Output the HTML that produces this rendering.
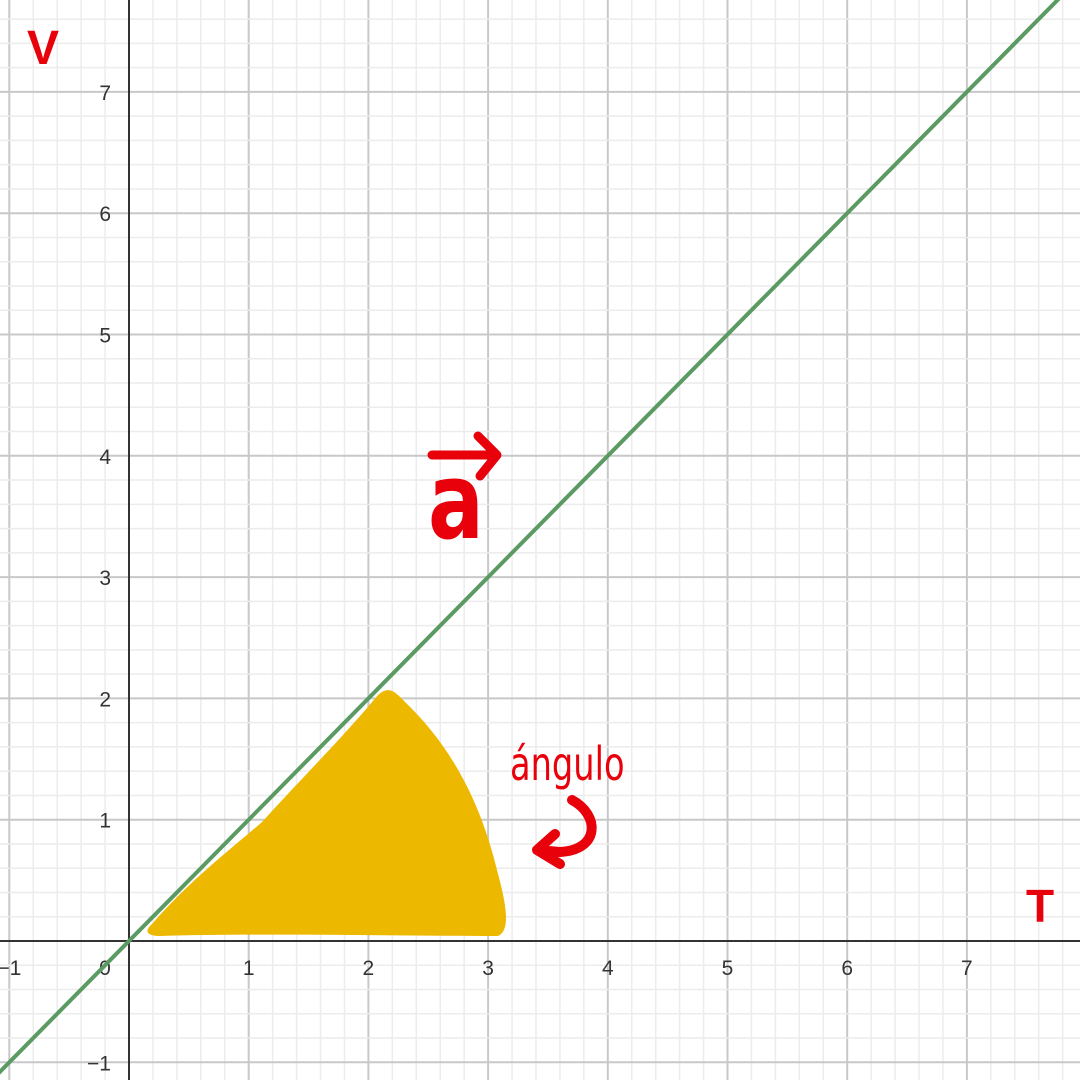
<!DOCTYPE html>
<html><head><meta charset="utf-8">
<style>
html,body{margin:0;padding:0;background:#fff;}
svg{display:block;}
</style></head>
<body>
<svg id="chart" width="1080" height="1080" viewBox="0 0 1080 1080" xmlns="http://www.w3.org/2000/svg" font-family="Liberation Sans, sans-serif">
<g id="grid"></g>
<g id="axes"></g>
<g id="labels"></g>
<path fill="#edb800" d="M152,924 C190,880 230,850 262,822 C300,780 345,735 378,695 C388,686 394,690 405,702 C450,745 480,800 497,870 C505,900 512,930 498,936 C400,936 260,933 160,936 C145,936 145,930 152,924 Z"/>
<g id="series"></g>
<text x="27" y="64" font-size="48" font-weight="bold" fill="#e8000b" font-family="Liberation Sans, sans-serif">V</text>
<text x="1026" y="922" font-size="46" font-weight="bold" fill="#e8000b">T</text>
<g>
<text x="428" y="538" font-size="92" fill="#e8000b" font-family="DejaVu Sans Condensed, DejaVu Sans, sans-serif" font-weight="bold" transform="translate(428 538) scale(1 1.15) translate(-428 -538)">a</text>
<path d="M432,455 L496,455 M478,436 L497,455 L480,476" stroke="#e8000b" stroke-width="9" fill="none" stroke-linecap="round" stroke-linejoin="round"/>
</g>
<text x="510" y="780" font-size="44" fill="#e8000b" font-family="Liberation Sans Narrow, DejaVu Sans Condensed, sans-serif" transform="translate(510 780) scale(0.85 1.05) translate(-510 -780)">ángulo</text>
<path d="M572,800 C600,815 600,850 560,852 L537,850 M555,834 L537,850 L560,864" stroke="#e8000b" stroke-width="10" fill="none" stroke-linecap="round" stroke-linejoin="round"/>
</svg>
<script>
const xTicks = [-1,0,1,2,3,4,5,6,7];
const yTicks = [-1,1,2,3,4,5,6,7];
const lineSlope = [1];
const lineIntercept = [0];
const X0 = 129, Y0 = 941, UX = 119.7, UY = 121.3;
function sx(v){return X0 + v*UX;}
function sy(v){return Y0 - v*UY;}
const NS = 'http://www.w3.org/2000/svg';
const grid = document.getElementById('grid');
function mk(tag, attrs, parent){const e=document.createElementNS(NS,tag);for(const k in attrs)e.setAttribute(k,attrs[k]);parent.appendChild(e);return e;}
for(let i=-10;i<=45;i++){
  const v=i/5; const x=sx(v);
  if(x<0||x>1080) continue;
  const major = i%5===0;
  const l=mk('line',{x1:x,y1:0,x2:x,y2:1080,stroke:major?'#c8c8c8':'#ececec','stroke-width':major?2:1.5},grid);
  
  
}
for(let i=-10;i<=45;i++){
  const v=i/5; const y=sy(v);
  if(y<0||y>1080) continue;
  const major = i%5===0;
  const l=mk('line',{x1:0,y1:y,x2:1080,y2:y,stroke:major?'#c8c8c8':'#ececec','stroke-width':major?2:1.5},grid);
  
  
}
const axes=document.getElementById('axes');
const xa=mk('line',{x1:0,y1:Y0,x2:1080,y2:Y0,stroke:'#333','stroke-width':2},axes);


const ya=mk('line',{x1:X0,y1:0,x2:X0,y2:1080,stroke:'#333','stroke-width':2},axes);


const labels=document.getElementById('labels');
xTicks.forEach(v=>{
  const t=mk('text',{x:v===0?sx(v)-24:sx(v),y:Y0+34,'font-size':21,fill:'#333','text-anchor':'middle'},labels);
  t.textContent = v<0 ? '\u2212'+Math.abs(v) : String(v);
  
  
});
yTicks.forEach(v=>{
  const t=mk('text',{x:X0-18,y:sy(v)+8,'font-size':21,fill:'#333','text-anchor':'end'},labels);
  t.textContent = v<0 ? '\u2212'+Math.abs(v) : String(v);
  
  
});
const series=document.getElementById('series');
lineSlope.forEach((m,i)=>{
  const b=lineIntercept[i];
  const xa0=-1.2, xa1=8;
  const p=mk('line',{x1:sx(xa0),y1:sy(m*xa0+b),x2:sx(xa1),y2:sy(m*xa1+b),stroke:'#5b9a63','stroke-width':4},series);
  
  
});
</script>
</body></html>
